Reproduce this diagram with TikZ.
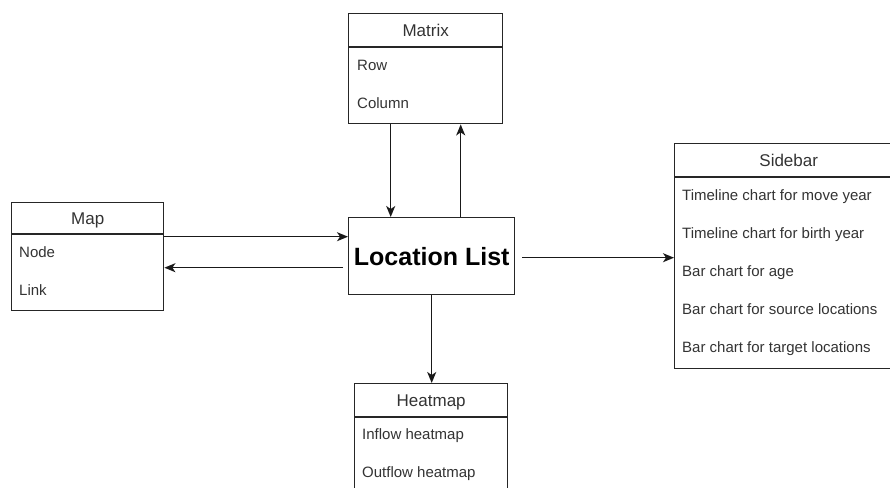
\documentclass[tikz,border=0pt]{standalone}
\usepackage{fontspec}
\setmainfont{Liberation Sans}
\usetikzlibrary{arrows.meta}
\begin{document}
\begin{tikzpicture}[x=1pt,y=-1pt,
  lane/.style={draw=black!85, line width=1.4pt, inner sep=0pt, anchor=north west},
  ttl/.style={font=\fontsize{17}{20}\selectfont, text=black!80, inner sep=0pt, text height=12.2pt, text depth=0pt},
  item/.style={font=\fontsize{15}{18}\selectfont, text=black!80, inner sep=0pt, anchor=west, text height=10.8pt, text depth=0pt},
  sep/.style={draw=black!85, line width=1.4pt},
  arr/.style={draw=black!90, line width=1.4pt, -{Stealth[length=11pt,width=9pt,inset=3pt]}}]
\useasboundingbox (0,0) rectangle (890,487);
\clip (0,0) rectangle (890,487);

% Matrix
\node[lane, minimum width=154pt, minimum height=110pt] (matrix) at (348,13) {};
\draw[sep] ([yshift=-34pt]matrix.north west) -- ([yshift=-34pt]matrix.north east);
\node[ttl] (matrixtitle) at ([yshift=-17pt]matrix.north) {Matrix};
\node[item] (mrow) at (357,65) {Row};
\node[item] (mcol) at (357,103) {Column};

% Map
\node[lane, minimum width=152pt, minimum height=108pt] (map) at (11,202) {};
\draw[sep] ([yshift=-32pt]map.north west) -- ([yshift=-32pt]map.north east);
\node[ttl] (maptitle) at ([yshift=-16pt]map.north) {Map};
\node[item] (mnode) at (19,252) {Node};
\node[item] (mlink) at (19,290) {Link};

% Location List
\node[lane, minimum width=166pt, minimum height=77pt] (ll) at (348,217) {};
\node[font=\bfseries\fontsize{25}{30}\selectfont, inner sep=0pt, text height=18pt, text depth=0pt] (lltext) at (ll.center) {Location List};

% Sidebar
\node[lane, minimum width=228pt, minimum height=225pt] (sidebar) at (674,143) {};
\draw[sep] ([yshift=-34pt]sidebar.north west) -- ([yshift=-34pt]sidebar.north east);
\node[ttl] (sidebartitle) at ([yshift=-17pt]sidebar.north) {Sidebar};
\node[item] (s1) at (682,195) {Timeline chart for move year};
\node[item] (s2) at (682,233) {Timeline chart for birth year};
\node[item] (s3) at (682,271) {Bar chart for age};
\node[item] (s4) at (682,309) {Bar chart for source locations};
\node[item] (s5) at (682,347) {Bar chart for target locations};

% Heatmap
\node[lane, minimum width=153pt, minimum height=110pt] (heat) at (354,383) {};
\draw[sep] ([yshift=-34pt]heat.north west) -- ([yshift=-34pt]heat.north east);
\node[ttl] (heattitle) at ([yshift=-17pt]heat.north) {Heatmap};
\node[item] (h1) at (362,434) {Inflow heatmap};
\node[item] (h2) at (362,472) {Outflow heatmap};

% Connectors
\draw[arr] ([xshift=-35pt]matrix.south) -- ([xshift=-35pt]matrix.south |- ll.north);
\draw[arr] ([xshift=29pt]ll.north) -- ([xshift=29pt]ll.north |- matrix.south);
\draw[arr] ([yshift=20pt]map.east) -- ([yshift=20pt]map.east -| ll.west);
\draw[arr] ([xshift=-5pt,yshift=-11pt]map.east -| ll.west) -- ([yshift=-11pt]map.east);
\draw[arr] ([xshift=7pt,yshift=-1.5pt]ll.east) -- ([yshift=-1.5pt]ll.east -| sidebar.west);
\draw[arr] (ll.south) -- (ll.south |- heat.north);
\end{tikzpicture}
\end{document}
